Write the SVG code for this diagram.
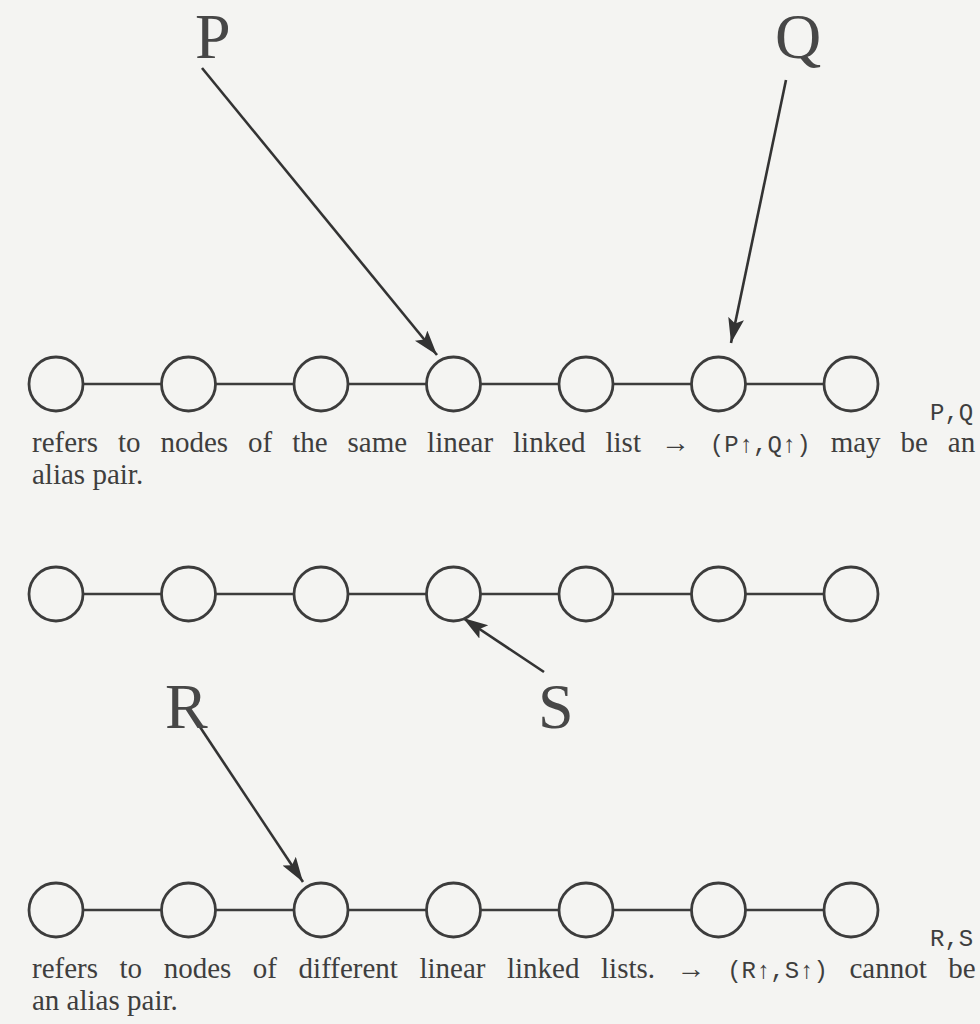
<svg xmlns="http://www.w3.org/2000/svg" width="980" height="1024" viewBox="0 0 980 1024">
<style>
.node{fill:#f4f4f2;stroke:#3c3c3c;stroke-width:2.8}
.link{stroke:#3c3c3c;stroke-width:2.4;fill:none}
.ptr{stroke:#333;stroke-width:2.6;fill:none}
.big{font-family:"Liberation Serif","DejaVu Serif",serif;font-size:64px;fill:#474747}
.tt{font-family:"Liberation Mono","DejaVu Sans Mono",monospace;font-size:24px;fill:#3e3e3e}
.body{font-family:"Liberation Serif","DejaVu Serif",serif;font-size:29px;fill:#3e3e3e}
</style>
<defs>
<marker id="ah" markerUnits="userSpaceOnUse" markerWidth="28" markerHeight="18" refX="25" refY="8" orient="auto">
<path d="M0,0 L25,8 L0,16 L5,8 Z" fill="#333"/>
</marker>
</defs>
<rect width="980" height="1024" fill="#f4f4f2"/>
<g id="connectors">
<line class="link" x1="83" y1="384" x2="161.5" y2="384"/>
<line class="link" x1="215.5" y1="384" x2="294" y2="384"/>
<line class="link" x1="348" y1="384" x2="426.5" y2="384"/>
<line class="link" x1="480.5" y1="384" x2="559" y2="384"/>
<line class="link" x1="613" y1="384" x2="691.5" y2="384"/>
<line class="link" x1="745.5" y1="384" x2="824" y2="384"/>
<line class="link" x1="83" y1="594" x2="161.5" y2="594"/>
<line class="link" x1="215.5" y1="594" x2="294" y2="594"/>
<line class="link" x1="348" y1="594" x2="426.5" y2="594"/>
<line class="link" x1="480.5" y1="594" x2="559" y2="594"/>
<line class="link" x1="613" y1="594" x2="691.5" y2="594"/>
<line class="link" x1="745.5" y1="594" x2="824" y2="594"/>
<line class="link" x1="83" y1="910" x2="161.5" y2="910"/>
<line class="link" x1="215.5" y1="910" x2="294" y2="910"/>
<line class="link" x1="348" y1="910" x2="426.5" y2="910"/>
<line class="link" x1="480.5" y1="910" x2="559" y2="910"/>
<line class="link" x1="613" y1="910" x2="691.5" y2="910"/>
<line class="link" x1="745.5" y1="910" x2="824" y2="910"/>
<line class="ptr" x1="202" y1="68" x2="437" y2="355" marker-end="url(#ah)"/>
<line class="ptr" x1="786" y1="80" x2="731" y2="343" marker-end="url(#ah)"/>
<line class="ptr" x1="544" y1="672" x2="463" y2="618" marker-end="url(#ah)"/>
<line class="ptr" x1="200" y1="727" x2="303" y2="882" marker-end="url(#ah)"/>
</g>
<g id="list1">
<circle id="a1" class="node" cx="56" cy="384" r="27"/>
<circle id="a2" class="node" cx="188.5" cy="384" r="27"/>
<circle id="a3" class="node" cx="321" cy="384" r="27"/>
<circle id="a4" class="node" cx="453.5" cy="384" r="27"/>
<circle id="a5" class="node" cx="586" cy="384" r="27"/>
<circle id="a6" class="node" cx="718.5" cy="384" r="27"/>
<circle id="a7" class="node" cx="851" cy="384" r="27"/>
</g>
<g id="list2">
<circle id="b1" class="node" cx="56" cy="594" r="27"/>
<circle id="b2" class="node" cx="188.5" cy="594" r="27"/>
<circle id="b3" class="node" cx="321" cy="594" r="27"/>
<circle id="b4" class="node" cx="453.5" cy="594" r="27"/>
<circle id="b5" class="node" cx="586" cy="594" r="27"/>
<circle id="b6" class="node" cx="718.5" cy="594" r="27"/>
<circle id="b7" class="node" cx="851" cy="594" r="27"/>
</g>
<g id="list3">
<circle id="c1" class="node" cx="56" cy="910" r="27"/>
<circle id="c2" class="node" cx="188.5" cy="910" r="27"/>
<circle id="c3" class="node" cx="321" cy="910" r="27"/>
<circle id="c4" class="node" cx="453.5" cy="910" r="27"/>
<circle id="c5" class="node" cx="586" cy="910" r="27"/>
<circle id="c6" class="node" cx="718.5" cy="910" r="27"/>
<circle id="c7" class="node" cx="851" cy="910" r="27"/>
</g>
<g id="labels">
<text class="big" x="195" y="58">P</text>
<text class="big" x="775" y="58">Q</text>
<text class="big" x="165" y="728">R</text>
<text class="big" x="538" y="728">S</text>
<text class="tt" x="930" y="420">P,Q</text>
<text class="tt" x="930" y="946">R,S</text>
</g>
<g id="captions">
<text class="body" x="32" y="452" word-spacing="12.7">refers to nodes of the same linear linked list → <tspan class="tt">(P↑,Q↑)</tspan> may be an</text>
<text class="body" x="32" y="484">alias pair.</text>
<text class="body" x="32" y="978" word-spacing="14.3">refers to nodes of different linear linked lists. → <tspan class="tt">(R↑,S↑)</tspan> cannot be</text>
<text class="body" x="32" y="1010">an alias pair.</text>
</g>
</svg>
